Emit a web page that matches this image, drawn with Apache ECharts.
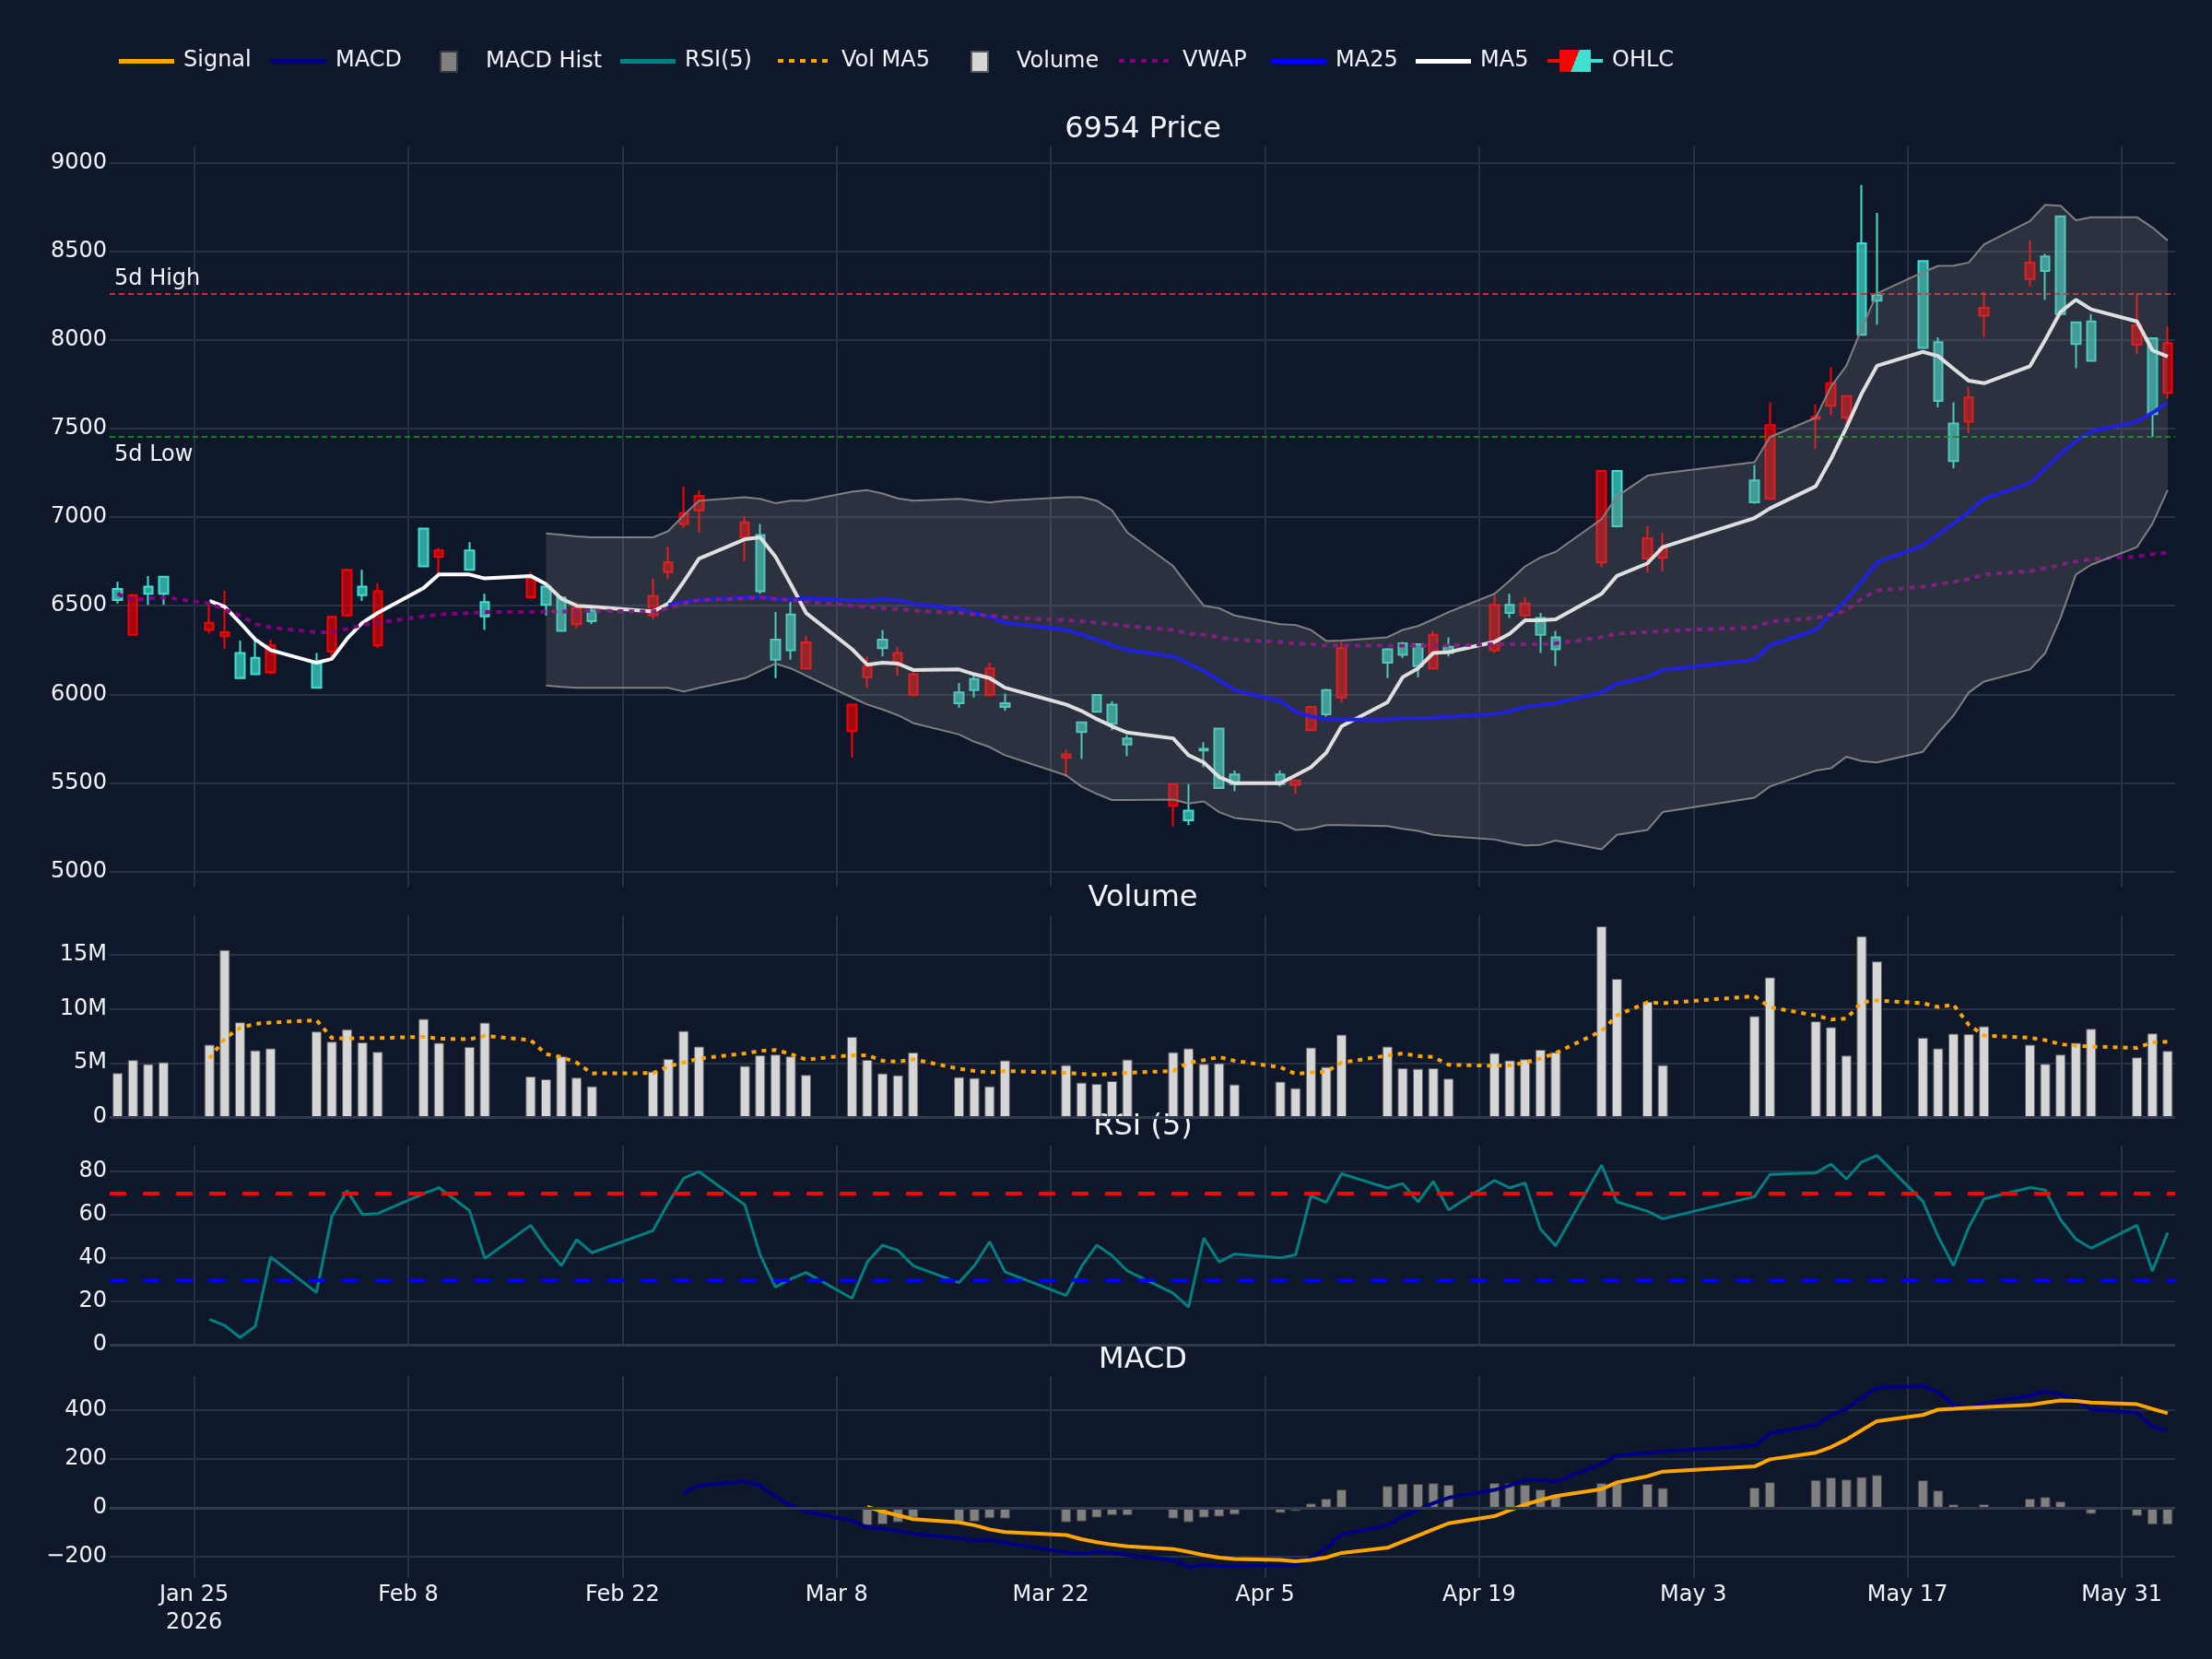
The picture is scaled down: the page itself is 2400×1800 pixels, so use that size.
<!DOCTYPE html>
<html>
<head>
<meta charset="utf-8">
<script src="https://cdn.jsdelivr.net/npm/echarts@6.0.0/dist/echarts.min.js"></script>
<style>
  html, body { margin: 0; padding: 0; background: #0f172a; }
  #chart { width: 2400px; height: 1800px; }
</style>
</head>
<body>
<div id="chart"></div>
<script>
// trading days (Tokyo calendar, weekends/holidays skipped)
const dates = [
  '2026-01-20','2026-01-21','2026-01-22','2026-01-23','2026-01-26','2026-01-27','2026-01-28','2026-01-29','2026-01-30',
  '2026-02-02','2026-02-03','2026-02-04','2026-02-05','2026-02-06','2026-02-09','2026-02-10','2026-02-12','2026-02-13',
  '2026-02-16','2026-02-17','2026-02-18','2026-02-19','2026-02-20','2026-02-24','2026-02-25','2026-02-26','2026-02-27',
  '2026-03-02','2026-03-03','2026-03-04','2026-03-05','2026-03-06','2026-03-09','2026-03-10','2026-03-11','2026-03-12',
  '2026-03-13','2026-03-16','2026-03-17','2026-03-18','2026-03-19','2026-03-23','2026-03-24','2026-03-25','2026-03-26',
  '2026-03-27','2026-03-30','2026-03-31',
  '2026-04-01','2026-04-02','2026-04-03','2026-04-06','2026-04-07','2026-04-08','2026-04-09','2026-04-10','2026-04-13',
  '2026-04-14','2026-04-15','2026-04-16','2026-04-17','2026-04-20','2026-04-21','2026-04-22','2026-04-23','2026-04-24',
  '2026-04-27','2026-04-28','2026-04-30',
  '2026-05-01','2026-05-07','2026-05-08','2026-05-11','2026-05-12','2026-05-13','2026-05-14','2026-05-15','2026-05-18',
  '2026-05-19','2026-05-20','2026-05-21','2026-05-22','2026-05-25','2026-05-26','2026-05-27','2026-05-28','2026-05-29',
  '2026-06-01','2026-06-02','2026-06-03'
];

const opens = [
  6532,6559,6567,6567,6404,6350,6091,6113,6276,
  6037,6437,6703,6559,6581,6722,6812,6703,6440,6657,6505,6358,6486,6412,6554,6744,7022,7120,
  6970,6581,6195,6249,6293,5942,6159,6260,6233,6113,5950,6023,6146,5928,5661,5787,5901,5833,5716,5493,5289,
  5683,5471,5493,5493,5512,5928,5887,6260,6178,6222,6159,6336,6233,6505,6459,6513,6336,6254,7261,6948,6880,
  6826,7084,7520,7566,7756,7683,8029,8222,7955,7656,7316,7675,8181,8437,8390,8146,7977,7882,
  8083,7582,7982
];
const closes = [
  6595,6336,6608,6663,6363,6328,6233,6206,6124,
  6178,6241,6445,6608,6276,6935,6777,6812,6521,6546,6608,6546,6396,6472,6445,6690,6962,7038,
  6886,6899,6309,6450,6146,5792,6097,6309,6178,5996,6010,6086,5996,5950,5642,5841,5996,5942,5751,5370,5343,
  5692,5806,5547,5547,5487,5797,6023,5982,6254,6287,6282,6146,6268,6249,6505,6445,6431,6322,6744,7261,6766,
  6772,7207,7103,7555,7629,7561,8546,8254,8445,7988,7528,7539,8137,8344,8472,8698,8099,8105,
  7974,8010,7702
];
const lows = [
  6513,6336,6505,6505,6342,6255,6091,6113,6113,
  6031,6206,6437,6527,6260,6722,6676,6703,6363,6543,6445,6358,6369,6396,6423,6649,6940,6913,
  6750,6567,6091,6195,6140,5642,6037,6214,6105,5988,5923,5982,5988,5906,5533,5634,5901,5797,5650,5253,5261,
  5588,5471,5452,5479,5438,5797,5874,5955,6091,6206,6097,6140,6214,6233,6431,6431,6233,6159,6717,6940,6690,
  6695,7076,7098,7384,7575,7506,8029,8086,7950,7620,7275,7474,8015,8301,8227,8146,7841,7882,
  7920,7452,7669
];
const highs = [
  6635,6567,6668,6663,6513,6586,6303,6322,6309,
  6233,6437,6709,6703,6627,6935,6826,6859,6567,6690,6614,6554,6521,6494,6654,6831,7174,7152,
  7008,6962,6464,6521,6331,5942,6214,6363,6268,6124,6064,6105,6178,6004,5688,5846,5996,5961,5770,5493,5493,
  5729,5806,5569,5569,5520,5928,6031,6295,6260,6295,6287,6358,6322,6559,6567,6548,6459,6358,7261,7267,6948,
  6913,7294,7648,7637,7846,7683,8875,8717,8445,8015,7648,7737,8273,8562,8486,8698,8099,8146,
  8263,8010,8078
];

// leading days without a value
function pad(n, arr) { return new Array(n).fill(null).concat(arr); }

const ma5 = pad(4, [
  6527,6494,6404,6309,6249,
  6178,6200,6314,6404,6459,6600,6676,6676,6654,6668,6622,6540,6500,6494,6467,6513,6635,6766,
  6875,6886,6777,6622,6459,6255,6167,6178,6173,6137,6140,6113,6091,6037,5942,5906,5860,5819,5784,5751,5656,
  5615,5533,5498,5498,5542,5588,5670,5819,5955,6097,6146,6233,6238,6295,6342,6418,6418,6423,6567,6668,6739,
  6831,6995,7049,7174,7329,7506,7697,7854,7933,7909,7838,7770,7756,7852,8001,8159,8227,8173,
  8105,7942,7906
]);
const ma25 = pad(24, [
  6505,6521,6532,
  6548,6548,6537,6535,6540,6532,6527,6537,6532,6510,6483,6459,6437,6404,6363,6336,6309,6276,6249,6214,6173,
  6132,6078,6023,5961,5901,5874,5860,5857,5857,5866,5868,5868,5874,5887,5906,5928,5939,5950,6010,6059,6097,
  6137,6195,6276,6363,6450,6532,6635,6744,6840,6902,6962,7030,7103,7193,7275,7357,7430,7484,
  7539,7588,7648
]);
const vwap = [
  6567,6532,6540,6548,6513,6478,6445,6396,6377,
  6350,6350,6369,6391,6404,6440,6450,6459,6464,6464,6467,6467,6467,6472,6467,6486,6513,6532,
  6540,6546,6540,6532,6521,6500,6494,6486,6481,6472,6459,6450,6445,6434,6418,6412,6404,6396,6385,6363,6342,
  6336,6322,6309,6295,6287,6282,6276,6274,6274,6274,6274,6274,6276,6282,6282,6282,6282,6287,6322,6342,6350,
  6358,6377,6410,6431,6450,6472,6540,6586,6608,6619,6635,6649,6676,6695,6712,6731,6750,6763,
  6777,6790,6799
];
const bbUpper = pad(19, [
  6908,6900,6891,6886,6886,6921,7011,7093,
  7112,7103,7079,7093,7093,7144,7152,7133,7106,7093,7103,7093,7082,7093,7112,7112,7093,7038,6913,6723,6608,
  6500,6486,6445,6396,6391,6363,6301,6303,6322,6363,6385,6423,6464,6567,6641,6722,6772,6804,6989,7117,7234,
  7248,7310,7452,7561,7737,7854,8064,8263,8382,8418,8420,8437,8540,8671,8763,8758,8676,8693,
  8693,8635,8562
]);
const bbLower = pad(19, [
  6050,6042,6037,6037,6037,6037,6015,6037,
  6091,6132,6173,6146,6105,5982,5942,5914,5882,5838,5773,5732,5702,5656,5542,5479,5438,5403,5403,5406,5384,
  5395,5335,5302,5275,5234,5240,5261,5261,5256,5240,5229,5207,5199,5180,5161,5147,5150,5174,5125,5207,5234,
  5335,5416,5479,5569,5582,5648,5623,5615,5675,5784,5879,6010,6072,6140,6233,6431,6676,6731,
  6831,6962,7152
]);
const fiveDayHigh = 8263;
const fiveDayLow = 7452;

// volume in millions of shares
const volumeM = [
  4.06,5.26,4.89,5.06,6.68,15.43,8.75,6.16,6.34,
  7.90,6.96,8.10,6.90,6.02,9.06,6.85,6.48,8.72,3.75,3.49,5.60,3.64,2.84,4.20,5.37,7.95,6.51,
  4.72,5.71,5.77,5.60,3.89,7.41,5.28,4.03,3.86,5.97,3.69,3.61,2.84,5.23,4.80,3.18,3.07,3.32,5.31,5.99,6.34,
  4.91,4.97,3.01,3.27,2.67,6.42,4.63,7.61,6.51,4.52,4.46,4.52,3.55,5.91,5.23,5.34,6.22,5.99,17.61,12.76,10.65,
  4.80,9.32,12.90,8.84,8.30,5.68,16.70,14.38,7.33,6.34,7.70,7.67,8.38,6.68,4.91,5.77,6.85,8.15,
  5.51,7.73,6.11
];
const volMA5 = pad(4, [
  5.40,7.24,8.24,8.61,8.72,
  8.95,7.30,7.24,7.30,7.30,7.41,7.24,7.19,7.50,7.10,5.82,5.54,5.03,4.03,4.06,4.69,5.03,5.40,
  5.88,6.11,6.19,5.82,5.31,5.71,5.71,5.20,5.11,5.34,4.46,4.26,4.12,4.26,4.09,3.98,3.92,3.98,4.09,4.26,5.03,
  5.26,5.54,5.20,4.60,3.98,4.12,4.18,5.03,5.68,5.88,5.63,5.54,4.83,4.74,4.77,5.03,5.40,5.91,7.95,9.38,10.60,
  10.51,11.16,10.14,9.38,9.01,9.09,10.60,10.77,10.51,10.17,10.37,8.52,7.53,7.33,7.10,6.73,6.59,6.51,
  6.39,6.90,6.96
]);

const rsi = pad(4, [
  11.8,8.9,3.3,8.5,40.5,
  24.1,59.2,71.2,60.2,60.6,69.8,72.6,62.0,39.8,55.2,45.0,36.5,48.6,42.5,52.8,65.6,76.9,80.0,
  64.6,41.5,26.6,30.4,33.4,21.4,38.2,46.0,43.6,36.5,28.7,36.5,47.6,33.7,22.7,36.1,46.0,41.2,34.1,23.8,17.4,
  49.3,38.2,41.9,40.1,41.5,68.8,65.8,79.0,72.4,74.5,66.0,75.5,62.3,75.9,72.5,74.8,53.5,45.7,83.0,66.0,61.7,
  58.2,68.4,78.7,79.4,83.5,76.6,84.4,87.5,66.3,50.0,36.5,54.2,67.4,72.6,71.5,57.8,48.8,44.6,
  55.2,34.0,51.8
]);
const rsiHigh = 70;
const rsiLow = 30;

const macd = pad(25, [
  60,91,
  108,91,45,10,-15,-53,-80,-86,-93,-106,-124,-134,-130,-143,-182,-187,-180,-184,-193,-213,-243,
  -232,-238,-237,-235,-234,-203,-165,-109,-71,-34,-9,19,41,73,91,114,113,108,179,213,225,
  230,253,304,338,379,404,448,490,498,471,420,411,426,457,476,463,436,402,
  388,332,313
]);
const signal = pad(33, [
  4,-15,-30,-46,-59,-71,-88,-99,-111,-128,-140,-150,-157,-168,-180,
  -193,-203,-209,-213,-218,-213,-203,-184,-163,-138,-113,-88,-63,-34,-10,14,31,48,76,104,129,
  148,169,198,225,248,279,317,354,379,401,404,408,411,420,430,438,436,430,
  423,404,386
]);
const macdHist = pad(33, [
  -71,-68,-59,-40,-56,-56,-43,-44,-59,-56,-40,-31,-31,-44,-59,
  -40,-36,-28,-21,-13,18,38,75,89,99,98,101,94,101,100,94,75,54,101,101,98,
  81,83,105,114,124,116,126,134,113,71,14,1,15,38,44,26,2,-25,
  -33,-69,-69
]);

const xTickDates = ['2026-01-25','2026-02-08','2026-02-22','2026-03-08','2026-03-22',
                    '2026-04-05','2026-04-19','2026-05-03','2026-05-17','2026-05-31'];
const priceTicks = [5000,5500,6000,6500,7000,7500,8000,8500,9000];
const volTicks = [0,5,10,15];
const rsiTicks = [0,20,40,60,80];
const macdTicks = [-200,0,200,400];

// ---------- build ----------
const DAY = 86400000;
const MONTHS = ['Jan','Feb','Mar','Apr','May','Jun','Jul','Aug','Sep','Oct','Nov','Dec'];
function ts(s) { const p = s.split('-').map(Number); return new Date(p[0], p[1] - 1, p[2]).getTime(); }
const T = dates.map(ts);
const xTicks = xTickDates.map(ts);
const xMin = T[0] - 0.52 * DAY;
const xMax = T[T.length - 1] + 0.49 * DAY;

function pairs(arr) {
  const out = [];
  arr.forEach((v, i) => { if (v != null) out.push([T[i], v]); });
  return out;
}
const candles = T.map((t, i) => [t, opens[i], closes[i], lows[i], highs[i]]);

const FONT = 'DejaVu Sans';
const TXT = '#f2f5fa';
const GRIDC = '#283144';
const ZEROC = '#2f3a4d';
const UP = '#40e0d0';
const DOWN = '#ff0000';

const grids = [
  { left: 119, right: 40, top: 159, height: 803 },
  { left: 119, right: 40, top: 993, height: 219 },
  { left: 119, right: 40, top: 1243, height: 216 },
  { left: 119, right: 40, top: 1493, height: 219 }
];

function xAxisFor(gi, labels) {
  return {
    type: 'value', gridIndex: gi, min: xMin, max: xMax, scale: true,
    axisLine: { show: false, onZero: false },
    axisTick: { show: false, customValues: xTicks },
    splitLine: { show: true, lineStyle: { color: GRIDC, width: 2 } },
    axisLabel: {
      show: labels, customValues: xTicks, color: TXT, fontSize: 24, fontFamily: FONT,
      margin: 4, lineHeight: 30, showMinLabel: true, showMaxLabel: true,
      formatter: function (v) {
        const d = new Date(v);
        const s = MONTHS[d.getMonth()] + ' ' + d.getDate();
        return v === xTicks[0] ? s + '\n' + d.getFullYear() : s;
      }
    }
  };
}
function yAxisFor(gi, min, max, ticks, fmt) {
  return {
    type: 'value', gridIndex: gi, min: min, max: max,
    axisLine: { show: false }, axisTick: { show: false, customValues: ticks },
    splitLine: { show: true, lineStyle: { color: GRIDC, width: 2 } },
    axisLabel: { customValues: ticks, color: TXT, fontSize: 24, fontFamily: FONT, margin: 3,
                 formatter: fmt || (v => String(v)) }
  };
}

function line(name, data, gi, color, width, type, z) {
  return {
    type: 'line', name: name, xAxisIndex: gi, yAxisIndex: gi, data: pairs(data),
    symbol: 'none', showSymbol: false, z: z || 3,
    itemStyle: { color: color },
    lineStyle: { color: color, width: width, type: type || 'solid' },
    emphasis: { disabled: true }
  };
}
function hline(v, color, width, type, label) {
  return { yAxis: v, lineStyle: { color: color, width: width, type: type }, label: label || { show: false } };
}

// legend icons, all drawn in a 60x24 box
const solidIcon = 'path://M0,0L0,0ZM60,24L60,24ZM0,10H60V15H0Z';
const dotIcon = 'path://M0,0L0,0ZM60,24L60,24ZM1,10h6v4h-6zM13,10h6v4h-6zM25,10h6v4h-6zM37,10h6v4h-6zM49,10h6v4h-6z';
const boxIcon = 'path://M0,0L0,0ZM60,24L60,24ZM21,1H39V23H21Z';
const candleIcon = 'path://M0,0L0,0ZM60,24L60,24ZM0,10H13V14H0ZM47,10H60V14H47ZM13,0H47V24H13Z';
const candleLegendColor = new echarts.graphic.LinearGradient(0, 0, 1, 1, [
  { offset: 0, color: DOWN }, { offset: 0.5, color: DOWN },
  { offset: 0.5, color: UP }, { offset: 1, color: UP }
]);

// one legend block per entry, placed where the reference puts it
const legendItems = [
  { name: 'Signal', icon: solidIcon, left: 129 },
  { name: 'MACD', icon: solidIcon, left: 294 },
  { name: 'MACD Hist', icon: boxIcon, left: 456 },
  { name: 'RSI(5)', icon: solidIcon, left: 673 },
  { name: 'Vol MA5', icon: dotIcon, left: 843 },
  { name: 'Volume', icon: boxIcon, left: 1032 },
  { name: 'VWAP', icon: dotIcon, left: 1213 },
  { name: 'MA25', icon: solidIcon, left: 1379 },
  { name: 'MA5', icon: solidIcon, left: 1536 },
  { name: 'OHLC', icon: candleIcon, left: 1679, itemStyle: { color: candleLegendColor, borderWidth: 0 } }
];

const bbUpperSeries = line('BB Upper', bbUpper, 0, '#808080', 2, 'solid', 6);
bbUpperSeries.markLine = {
  silent: true, symbol: 'none', animation: false,
  data: [
    hline(fiveDayHigh, '#ff1a1a', 2, [6, 4], {
      show: true, position: 'insideStartTop', formatter: '5d High',
      color: TXT, fontSize: 24, fontFamily: FONT, distance: [5, 4]
    }),
    hline(fiveDayLow, '#0a8a0a', 2, [6, 4], {
      show: true, position: 'insideStartBottom', formatter: '5d Low',
      color: TXT, fontSize: 24, fontFamily: FONT, distance: [5, 8]
    })
  ]
};

const rsiSeries = line('RSI(5)', rsi, 2, '#008080', 3, 'solid', 3);
rsiSeries.markLine = {
  silent: true, symbol: 'none', animation: false,
  data: [hline(rsiHigh, '#ff0000', 4, [18, 18]), hline(rsiLow, '#0000ff', 4, [18, 18]), hline(0, ZEROC, 3, 'solid')]
};

const panelTitles = [
  { text: '6954 Price', y: 141 },
  { text: 'Volume', y: 975 },
  { text: 'RSI (5)', y: 1223 },
  { text: 'MACD', y: 1476 }
];

const option = {
  backgroundColor: '#0f172a',
  animation: false,
  textStyle: { fontFamily: FONT },
  graphic: panelTitles.map(t => ({
    type: 'text', x: 1240, y: t.y, silent: true,
    style: { text: t.text, fill: TXT, fontSize: 32, fontFamily: FONT, align: 'center', verticalAlign: 'middle' }
  })),
  legend: legendItems.map(it => ({
    left: it.left, top: 54, padding: 0, itemWidth: 60, itemHeight: 24,
    textStyle: { color: TXT, fontSize: 24, fontFamily: FONT, padding: [0, 0, 0, 5] },
    selectedMode: false,
    data: [{ name: it.name, icon: it.icon, itemStyle: it.itemStyle }]
  })),
  grid: grids,
  xAxis: [xAxisFor(0, false), xAxisFor(1, false), xAxisFor(2, false), xAxisFor(3, true)],
  yAxis: [
    yAxisFor(0, 4914, 9092, priceTicks),
    yAxisFor(1, 0, 18.64, volTicks, v => v === 0 ? '0' : v + 'M'),
    yAxisFor(2, 0, 92, rsiTicks),
    yAxisFor(3, -286, 538, macdTicks, v => v < 0 ? '\u2212' + Math.abs(v) : String(v))
  ],
  series: [
    {
      type: 'candlestick', name: 'OHLC', xAxisIndex: 0, yAxisIndex: 0, z: 2,
      barWidth: 10, data: candles,
      itemStyle: {
        color: 'rgba(64,224,208,0.7)', color0: 'rgba(255,0,0,0.6)',
        borderColor: UP, borderColor0: DOWN, borderWidth: 2
      },
      emphasis: { disabled: true }
    },
    line('MA5', ma5, 0, '#ffffff', 4, 'solid', 3),
    line('MA25', ma25, 0, '#0000ff', 4, 'solid', 3),
    line('VWAP', vwap, 0, '#800080', 4, [6, 6], 3),
    {
      type: 'custom', name: 'BB Band', xAxisIndex: 0, yAxisIndex: 0, z: 5, silent: true,
      data: [[T[19], bbUpper[19]]], encode: { x: 0, y: 1 },
      renderItem: function (params, api) {
        const top = [], bot = [];
        for (let i = 0; i < T.length; i++) {
          if (bbUpper[i] == null) continue;
          top.push(api.coord([T[i], bbUpper[i]]));
          bot.push(api.coord([T[i], bbLower[i]]));
        }
        return { type: 'polygon', shape: { points: top.concat(bot.reverse()) }, style: { fill: 'rgba(128,128,128,0.25)' } };
      }
    },
    bbUpperSeries,
    line('BB Lower', bbLower, 0, '#808080', 2, 'solid', 6),
    {
      type: 'bar', name: 'Volume', xAxisIndex: 1, yAxisIndex: 1, data: pairs(volumeM), barWidth: 11, z: 2,
      itemStyle: { color: '#d6d6d6', borderColor: '#5a5a5a', borderWidth: 1 },
      emphasis: { disabled: true },
      markLine: { silent: true, symbol: 'none', animation: false, data: [hline(0, ZEROC, 3, 'solid')] }
    },
    line('Vol MA5', volMA5, 1, '#ffa500', 4, [5, 6], 3),
    rsiSeries,
    {
      type: 'bar', name: 'MACD Hist', xAxisIndex: 3, yAxisIndex: 3, data: pairs(macdHist), barWidth: 11, z: 2,
      itemStyle: { color: '#808080', borderColor: '#3a3a3a', borderWidth: 1 },
      emphasis: { disabled: true },
      markLine: { silent: true, symbol: 'none', animation: false, data: [hline(0, ZEROC, 3, 'solid')] }
    },
    line('MACD', macd, 3, '#000080', 4, 'solid', 3),
    line('Signal', signal, 3, '#ffa500', 4, 'solid', 3)
  ]
};

const chart = echarts.init(document.getElementById('chart'));
chart.setOption(option);
</script>
</body>
</html>
